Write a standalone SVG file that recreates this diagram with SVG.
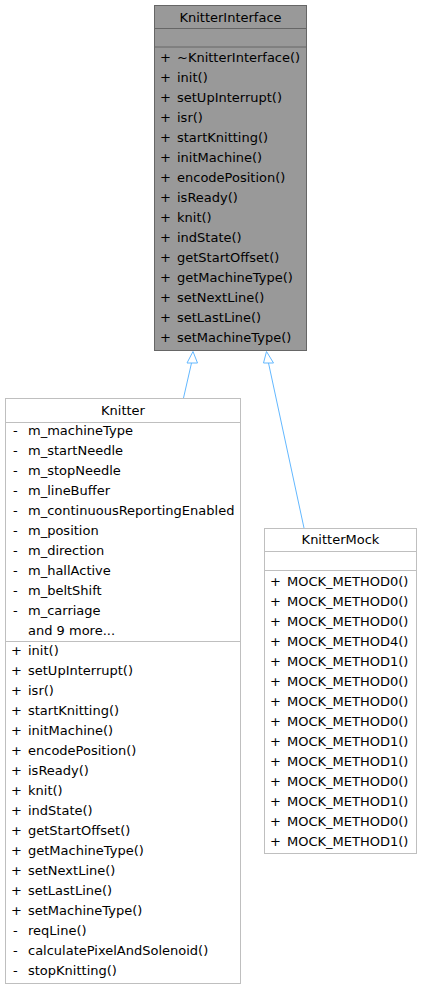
<svg xmlns="http://www.w3.org/2000/svg" width="421" height="989" viewBox="0 0 421 989">
<style>
text{font-family:"DejaVu Sans",sans-serif;font-size:13px;fill:#000}
.t{text-anchor:middle}
.main rect{fill:#999999;stroke:#666666;stroke-width:1}
.main line{stroke:#666666;stroke-width:1}
.n rect{fill:#ffffff;stroke:#bfbfbf;stroke-width:1}
.n line{stroke:#bfbfbf;stroke-width:1}
.e path{fill:none;stroke:#63b8ff;stroke-width:1}
.e polygon{fill:#ffffff;stroke:#63b8ff;stroke-width:1}
</style>
<rect width="421" height="989" fill="#ffffff"/>
<g id="KnitterInterface" class="main">
<rect x="154.5" y="5.5" width="152" height="345"/>
<line x1="154.5" y1="28.5" x2="306.5" y2="28.5"/>
<line x1="154.5" y1="47" x2="306.5" y2="47"/>
<text class="t" x="230.5" y="21.5">KnitterInterface</text>
<text x="160" y="61.5">+</text><text x="177" y="61.5">~KnitterInterface()</text>
<text x="160" y="81.5">+</text><text x="177" y="81.5">init()</text>
<text x="160" y="101.5">+</text><text x="177" y="101.5">setUpInterrupt()</text>
<text x="160" y="121.5">+</text><text x="177" y="121.5">isr()</text>
<text x="160" y="141.5">+</text><text x="177" y="141.5">startKnitting()</text>
<text x="160" y="161.5">+</text><text x="177" y="161.5">initMachine()</text>
<text x="160" y="181.5">+</text><text x="177" y="181.5">encodePosition()</text>
<text x="160" y="201.5">+</text><text x="177" y="201.5">isReady()</text>
<text x="160" y="221.5">+</text><text x="177" y="221.5">knit()</text>
<text x="160" y="241.5">+</text><text x="177" y="241.5">indState()</text>
<text x="160" y="261.5">+</text><text x="177" y="261.5">getStartOffset()</text>
<text x="160" y="281.5">+</text><text x="177" y="281.5">getMachineType()</text>
<text x="160" y="301.5">+</text><text x="177" y="301.5">setNextLine()</text>
<text x="160" y="321.5">+</text><text x="177" y="321.5">setLastLine()</text>
<text x="160" y="341.5">+</text><text x="177" y="341.5">setMachineType()</text>
</g>
<g id="Knitter" class="n">
<rect x="5.5" y="398.5" width="235" height="585"/>
<line x1="5.5" y1="422.5" x2="240.5" y2="422.5"/>
<line x1="5.5" y1="641.5" x2="240.5" y2="641.5"/>
<text class="t" x="123" y="414.5">Knitter</text>
<text x="13" y="435">-</text><text x="28" y="435">m_machineType</text>
<text x="13" y="455">-</text><text x="28" y="455">m_startNeedle</text>
<text x="13" y="475">-</text><text x="28" y="475">m_stopNeedle</text>
<text x="13" y="495">-</text><text x="28" y="495">m_lineBuffer</text>
<text x="13" y="515">-</text><text x="28" y="515">m_continuousReportingEnabled</text>
<text x="13" y="535">-</text><text x="28" y="535">m_position</text>
<text x="13" y="555">-</text><text x="28" y="555">m_direction</text>
<text x="13" y="575">-</text><text x="28" y="575">m_hallActive</text>
<text x="13" y="595">-</text><text x="28" y="595">m_beltShift</text>
<text x="13" y="615">-</text><text x="28" y="615">m_carriage</text>
<text x="28" y="635">and 9 more...</text>
<text x="11" y="655">+</text><text x="28" y="655">init()</text>
<text x="11" y="675">+</text><text x="28" y="675">setUpInterrupt()</text>
<text x="11" y="695">+</text><text x="28" y="695">isr()</text>
<text x="11" y="715">+</text><text x="28" y="715">startKnitting()</text>
<text x="11" y="735">+</text><text x="28" y="735">initMachine()</text>
<text x="11" y="755">+</text><text x="28" y="755">encodePosition()</text>
<text x="11" y="775">+</text><text x="28" y="775">isReady()</text>
<text x="11" y="795">+</text><text x="28" y="795">knit()</text>
<text x="11" y="815">+</text><text x="28" y="815">indState()</text>
<text x="11" y="835">+</text><text x="28" y="835">getStartOffset()</text>
<text x="11" y="855">+</text><text x="28" y="855">getMachineType()</text>
<text x="11" y="875">+</text><text x="28" y="875">setNextLine()</text>
<text x="11" y="895">+</text><text x="28" y="895">setLastLine()</text>
<text x="11" y="915">+</text><text x="28" y="915">setMachineType()</text>
<text x="13" y="935">-</text><text x="28" y="935">reqLine()</text>
<text x="13" y="955">-</text><text x="28" y="955">calculatePixelAndSolenoid()</text>
<text x="13" y="975">-</text><text x="28" y="975">stopKnitting()</text>
</g>
<g id="KnitterMock" class="n">
<rect x="264.5" y="528.5" width="152" height="325"/>
<line x1="264.5" y1="551.5" x2="416.5" y2="551.5"/>
<line x1="264.5" y1="570.5" x2="416.5" y2="570.5"/>
<text class="t" x="340.5" y="544">KnitterMock</text>
<text x="270" y="586">+</text><text x="287" y="586">MOCK_METHOD0()</text>
<text x="270" y="606">+</text><text x="287" y="606">MOCK_METHOD0()</text>
<text x="270" y="626">+</text><text x="287" y="626">MOCK_METHOD0()</text>
<text x="270" y="646">+</text><text x="287" y="646">MOCK_METHOD4()</text>
<text x="270" y="666">+</text><text x="287" y="666">MOCK_METHOD1()</text>
<text x="270" y="686">+</text><text x="287" y="686">MOCK_METHOD0()</text>
<text x="270" y="706">+</text><text x="287" y="706">MOCK_METHOD0()</text>
<text x="270" y="726">+</text><text x="287" y="726">MOCK_METHOD0()</text>
<text x="270" y="746">+</text><text x="287" y="746">MOCK_METHOD1()</text>
<text x="270" y="766">+</text><text x="287" y="766">MOCK_METHOD1()</text>
<text x="270" y="786">+</text><text x="287" y="786">MOCK_METHOD0()</text>
<text x="270" y="806">+</text><text x="287" y="806">MOCK_METHOD1()</text>
<text x="270" y="826">+</text><text x="287" y="826">MOCK_METHOD0()</text>
<text x="270" y="846">+</text><text x="287" y="846">MOCK_METHOD1()</text>
</g>
<g id="connectors" class="e">
<path d="M183.5,398 L191.5,363"/>
<polygon points="193,351.5 187,363 197.5,363"/>
<path d="M304,528 L268.5,363"/>
<polygon points="266.5,351.5 263.5,363 273.5,363"/>
</g>
</svg>
